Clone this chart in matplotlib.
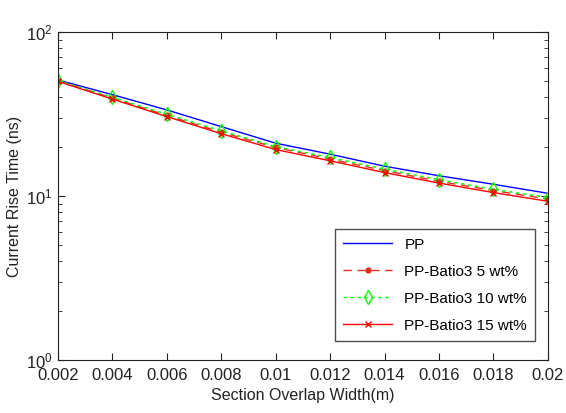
import matplotlib.pyplot as plt
import numpy as np

plt.rcParams['font.family'] = ['Liberation Sans', 'DejaVu Sans']

# section overlap width (m)
width = [0.002, 0.004, 0.006, 0.008, 0.010, 0.012, 0.014, 0.016, 0.018, 0.020]
xtick_labels = ['0.002', '0.004', '0.006', '0.008', '0.01', '0.012', '0.014', '0.016', '0.018', '0.02']

# current rise time (ns)
pp = [51.0, 41.5, 33.5, 26.5, 21.0, 18.0, 15.2, 13.3, 11.8, 10.4]
pp_5wt = [50.5, 39.5, 31.0, 24.5, 19.8, 16.8, 14.3, 12.3, 10.8, 9.6]
pp_10wt = [50.5, 40.0, 31.5, 25.0, 20.0, 17.2, 14.6, 12.6, 11.0, 9.8]
pp_15wt = [50.0, 39.0, 30.5, 24.0, 19.2, 16.4, 13.9, 12.0, 10.5, 9.3]

fig = plt.figure(figsize=(5.66, 4.13), dpi=100)
ax = fig.add_axes([0.1025, 0.128, 0.8655, 0.7945])

ax.semilogy(width, pp, color='#0000ff', lw=1.0, label='PP')
ax.semilogy(width, pp_5wt, color='#e03020', lw=1.0, ls=(0, (6, 4)), marker='.',
            ms=7, label='PP-Batio3 5 wt%')
ax.semilogy(width, pp_10wt, color='#00ff00', lw=1.0, ls=(0, (2.5, 2.5)), marker='d',
            ms=7, mfc='none', label='PP-Batio3 10 wt%')
ax.semilogy(width, pp_15wt, color='#ff0000', lw=1.0, marker='x', ms=5,
            label='PP-Batio3 15 wt%')

ax.set_xlim(0.002, 0.02)
ax.set_ylim(1, 100)
ax.set_xticks(width)
ax.set_xticklabels(xtick_labels)
ax.tick_params(which='both', direction='in', top=True, right=True, labelsize=12, colors='#222222')
ax.tick_params(which='major', length=5)
ax.tick_params(which='minor', length=3)
ax.tick_params(axis='x', pad=6)
ax.tick_params(axis='y', pad=4)
for s in ax.spines.values():
    s.set_color('#222222')

ax.set_xlabel('Section Overlap Width(m)', fontsize=11.5, color='#222222', labelpad=3)
ax.set_ylabel('Current Rise Time (ns)', fontsize=11.5, color='#222222', labelpad=3)

leg = ax.legend(loc='lower right', fontsize=11, frameon=True, fancybox=False,
                edgecolor='#222222', handlelength=3.2, borderpad=0.55,
                labelspacing=0.85, bbox_to_anchor=(0.99, 0.035))
leg.get_frame().set_linewidth(1.0)

fig.savefig('out.png', dpi=100)
